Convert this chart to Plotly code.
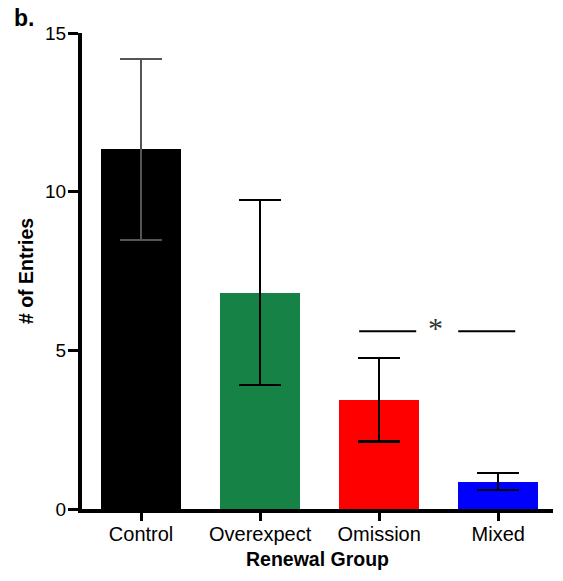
import plotly.graph_objects as go

# Group means and SEM
groups = ["Control", "Overexpect", "Omission", "Mixed"]
means = [11.33, 6.82, 3.44, 0.86]
sems = [2.86, 2.92, 1.31, 0.27]
colors = ["#000000", "#178245", "#ff0000", "#0000ff"]
err_colors = ["#555555", "#000000", "#000000", "#000000"]
y_ticks = [0, 5, 10, 15]

# significance bracket between Omission and Mixed
sig_y = 5.6
sig_segments = [(1.832, 2.311), (2.664, 3.143)]
sig_label_x = 2.47

fig = go.Figure()
for i, g in enumerate(groups):
    fig.add_trace(go.Bar(
        x=[i], y=[means[i]],
        marker=dict(color=colors[i], line=dict(width=0)),
        width=0.67,
        error_y=dict(type="data", array=[sems[i]], visible=True,
                     color=err_colors[i], thickness=2.2, width=21),
        showlegend=False,
    ))

shapes = []
for x0, x1 in sig_segments:
    shapes.append(dict(type="line", xref="x", yref="y", x0=x0, x1=x1,
                       y0=sig_y, y1=sig_y, line=dict(color="black", width=2)))

fig.update_layout(
    width=563, height=581,
    margin=dict(l=82, r=10, t=33, b=72),
    plot_bgcolor="white", paper_bgcolor="white",
    font=dict(family="Liberation Sans, Arial, sans-serif", color="black"),
    bargap=0,
    shapes=shapes,
    annotations=[
        dict(text="*", x=sig_label_x, y=sig_y, xref="x", yref="y",
             showarrow=False, yshift=4,
             font=dict(family="Liberation Serif, Times New Roman, serif",
                       size=30, color="#333333")),
        dict(text="<b>b.</b>", x=-0.148, y=1.062, xref="paper", yref="paper",
             showarrow=False, xanchor="left", yanchor="top",
             font=dict(size=23)),
    ],
    xaxis=dict(
        range=[-0.496, 3.46],
        tickmode="array", tickvals=list(range(len(groups))), ticktext=groups,
        ticks="outside", ticklen=8, tickwidth=3, tickcolor="black",
        showline=True, linewidth=4, linecolor="black",
        showgrid=False, zeroline=False,
        tickfont=dict(size=20), ticklabelstandoff=-4,
        title=dict(text="<b>Renewal Group</b>", font=dict(size=19.5), standoff=9),
    ),
    yaxis=dict(
        range=[0, 15],
        tickmode="array", tickvals=y_ticks,
        ticks="outside", ticklen=10, tickwidth=3, tickcolor="black",
        showline=True, linewidth=4, linecolor="black",
        showgrid=False, zeroline=False,
        tickfont=dict(size=19), ticklabelstandoff=-2,
        title=dict(text="<b># of Entries</b>", font=dict(size=19.5), standoff=7),
    ),
)

fig.write_html("out.html")
